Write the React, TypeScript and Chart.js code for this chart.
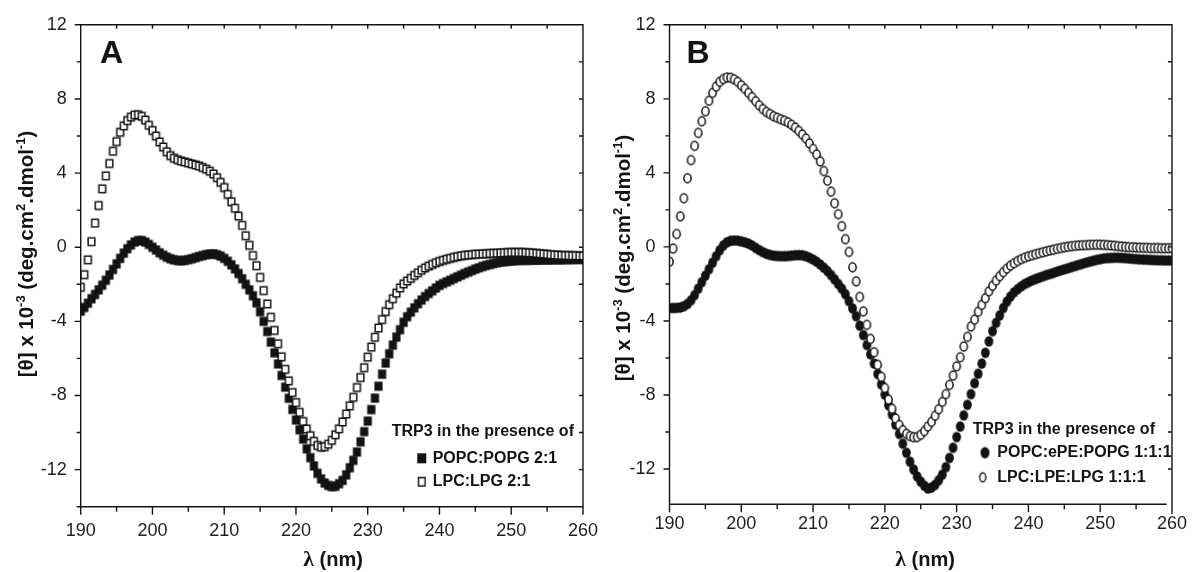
import React, { useEffect, useRef } from 'react';
import { Chart, registerables } from 'chart.js';

Chart.register(...registerables);

// ---------------- data ----------------
const wavelengthNm = [190,190.5,191,191.5,192,192.5,193,193.5,194,194.5,195,195.5,196,196.5,197,197.5,198,198.5,199,199.5,200,200.5,201,201.5,202,202.5,203,203.5,204,204.5,205,205.5,206,206.5,207,207.5,208,208.5,209,209.5,210,210.5,211,211.5,212,212.5,213,213.5,214,214.5,215,215.5,216,216.5,217,217.5,218,218.5,219,219.5,220,220.5,221,221.5,222,222.5,223,223.5,224,224.5,225,225.5,226,226.5,227,227.5,228,228.5,229,229.5,230,230.5,231,231.5,232,232.5,233,233.5,234,234.5,235,235.5,236,236.5,237,237.5,238,238.5,239,239.5,240,240.5,241,241.5,242,242.5,243,243.5,244,244.5,245,245.5,246,246.5,247,247.5,248,248.5,249,249.5,250,250.5,251,251.5,252,252.5,253,253.5,254,254.5,255,255.5,256,256.5,257,257.5,258,258.5,259,259.5,260];

const xTickLabels = [190, 200, 210, 220, 230, 240, 250, 260];
const xMinorTicks = [190, 195, 200, 205, 210, 215, 220, 225, 230, 235, 240, 245, 250, 255, 260];
const yTickLabels = [-12, -8, -4, 0, 4, 8, 12];
const yMinorTicks = [-14, -12, -10, -8, -6, -4, -2, 0, 2, 4, 6, 8, 10, 12];

// Panel A, filled squares
const popcPopgA = [-3.45,-3.25,-3.02,-2.78,-2.55,-2.3,-2.05,-1.78,-1.5,-1.2,-0.9,-0.6,-0.32,-0.08,0.12,0.28,0.36,0.36,0.28,0.15,0.0,-0.15,-0.3,-0.43,-0.54,-0.62,-0.68,-0.72,-0.73,-0.71,-0.67,-0.62,-0.56,-0.5,-0.45,-0.4,-0.37,-0.36,-0.4,-0.48,-0.6,-0.76,-0.95,-1.17,-1.42,-1.7,-2.0,-2.3,-2.62,-3.0,-3.48,-4.0,-4.55,-5.12,-5.7,-6.3,-6.92,-7.55,-8.15,-8.75,-9.32,-9.85,-10.35,-10.88,-11.35,-11.8,-12.2,-12.5,-12.72,-12.85,-12.92,-12.9,-12.76,-12.58,-12.28,-11.9,-11.5,-11.05,-10.5,-9.95,-9.38,-8.76,-8.14,-7.5,-6.85,-6.25,-5.75,-5.28,-4.85,-4.45,-4.05,-3.75,-3.5,-3.27,-3.05,-2.85,-2.66,-2.5,-2.35,-2.2,-2.06,-1.96,-1.87,-1.78,-1.69,-1.6,-1.51,-1.42,-1.34,-1.26,-1.18,-1.11,-1.04,-0.98,-0.93,-0.88,-0.84,-0.8,-0.78,-0.76,-0.74,-0.72,-0.71,-0.7,-0.7,-0.7,-0.69,-0.69,-0.69,-0.68,-0.68,-0.68,-0.67,-0.67,-0.67,-0.66,-0.66,-0.66,-0.65,-0.65,-0.65];

// Panel A, open squares
const lpcLpgA = [-2.16,-1.48,-0.68,0.3,1.3,2.25,3.15,3.85,4.52,5.18,5.7,6.2,6.55,6.83,7.02,7.13,7.15,7.06,6.86,6.58,6.3,6.0,5.68,5.41,5.15,4.94,4.8,4.72,4.65,4.6,4.55,4.49,4.44,4.38,4.3,4.21,4.1,3.95,3.75,3.5,3.22,2.85,2.45,2.1,1.68,1.18,0.62,0.1,-0.45,-1.0,-1.63,-2.34,-3.06,-3.78,-4.49,-5.21,-5.91,-6.59,-7.21,-7.84,-8.38,-8.91,-9.4,-9.81,-10.17,-10.47,-10.7,-10.79,-10.76,-10.63,-10.42,-10.12,-9.8,-9.43,-9.0,-8.56,-8.1,-7.57,-7.03,-6.5,-5.93,-5.39,-4.86,-4.36,-3.9,-3.47,-3.1,-2.78,-2.48,-2.2,-1.98,-1.82,-1.68,-1.52,-1.38,-1.24,-1.12,-1.02,-0.93,-0.84,-0.77,-0.71,-0.65,-0.6,-0.55,-0.51,-0.47,-0.44,-0.42,-0.4,-0.38,-0.37,-0.36,-0.35,-0.34,-0.33,-0.32,-0.31,-0.3,-0.29,-0.28,-0.28,-0.28,-0.28,-0.29,-0.3,-0.31,-0.33,-0.35,-0.36,-0.38,-0.4,-0.42,-0.43,-0.44,-0.45,-0.45,-0.46,-0.46,-0.47,-0.47];

// Panel B, filled circles
const popcEpePopgB = [-3.3,-3.3,-3.29,-3.27,-3.2,-3.08,-2.88,-2.6,-2.25,-1.9,-1.55,-1.2,-0.85,-0.5,-0.18,0.08,0.25,0.33,0.35,0.34,0.3,0.25,0.18,0.08,-0.05,-0.17,-0.28,-0.37,-0.43,-0.47,-0.49,-0.5,-0.5,-0.49,-0.47,-0.45,-0.44,-0.45,-0.5,-0.58,-0.68,-0.8,-0.95,-1.12,-1.3,-1.52,-1.75,-2.0,-2.25,-2.55,-2.93,-3.32,-3.74,-4.25,-4.76,-5.3,-5.8,-6.3,-6.86,-7.42,-7.98,-8.55,-9.05,-9.6,-10.1,-10.63,-11.12,-11.6,-12.02,-12.4,-12.68,-12.9,-13.05,-13.0,-12.85,-12.6,-12.3,-11.9,-11.4,-10.85,-10.27,-9.7,-9.1,-8.53,-7.95,-7.36,-6.85,-6.3,-5.72,-5.1,-4.55,-4.1,-3.7,-3.3,-2.95,-2.68,-2.45,-2.28,-2.13,-2.0,-1.9,-1.81,-1.73,-1.66,-1.59,-1.52,-1.46,-1.4,-1.33,-1.27,-1.21,-1.15,-1.09,-1.03,-0.97,-0.91,-0.85,-0.8,-0.75,-0.7,-0.66,-0.62,-0.6,-0.59,-0.58,-0.58,-0.59,-0.6,-0.62,-0.64,-0.65,-0.67,-0.68,-0.69,-0.7,-0.71,-0.72,-0.72,-0.73,-0.73,-0.73];

// Panel B, open circles
const lpcLpeLpgB = [-0.8,-0.09,0.7,1.65,2.63,3.71,4.69,5.46,6.16,6.79,7.33,7.9,8.32,8.66,8.92,9.07,9.15,9.14,9.06,8.92,8.73,8.54,8.32,8.09,7.87,7.65,7.45,7.29,7.18,7.06,6.98,6.9,6.82,6.73,6.6,6.45,6.27,6.07,5.86,5.59,5.29,4.99,4.62,4.1,3.58,2.99,2.36,1.77,1.12,0.42,-0.27,-1.1,-1.86,-2.7,-3.48,-4.21,-4.97,-5.69,-6.37,-7.02,-7.62,-8.25,-8.74,-9.27,-9.62,-9.9,-10.1,-10.22,-10.28,-10.27,-10.15,-9.95,-9.7,-9.45,-9.12,-8.77,-8.37,-7.95,-7.45,-6.95,-6.45,-5.96,-5.38,-4.86,-4.3,-3.93,-3.5,-3.13,-2.77,-2.4,-2.1,-1.82,-1.58,-1.36,-1.17,-1.01,-0.88,-0.76,-0.66,-0.58,-0.51,-0.45,-0.39,-0.34,-0.29,-0.24,-0.19,-0.15,-0.1,-0.06,-0.02,0.01,0.04,0.06,0.08,0.09,0.1,0.11,0.12,0.12,0.12,0.11,0.1,0.08,0.06,0.04,0.02,0.0,-0.01,-0.02,-0.03,-0.04,-0.05,-0.05,-0.06,-0.06,-0.06,-0.07,-0.07,-0.07,-0.07];

const legendTitle = 'TRP3 in the presence of';
const namesA = ['POPC:POPG 2:1', 'LPC:LPG 2:1'];
const namesB = ['POPC:ePE:POPG 1:1:1', 'LPC:LPE:LPG 1:1:1'];

// ---------------- styling ----------------
const INK = '#131313';
const SANS = "'Liberation Sans', Arial, Helvetica, sans-serif";
const SERIF = "'Liberation Serif', 'Times New Roman', serif";

type Shape = 'rect' | 'ellipse';

type Panel = {
  letter: string;
  canvasLeft: number;
  canvasWidth: number;
  shape: Shape;
  filledValues: number[];
  openValues: number[];
  names: string[];
  yAxisWidth: number;
  xAxisHeight: number;
  padRight: number;
  padTop: number;
  yMin: number;
  xTickPad: number;
  bottomLineEnd: number | null;
  rightLineExtra: number;
  letterX: number;
  letterY: number;
  yTitleX: number;
  yTitleY: number;
  xTitleX: number;
  xTitleY: number;
  legendX: number;
  legendY: number;
  markerX: number[];
  textX: number;
  rowY: number[];
  markW: number;
  markH: number;
};

const panels: Panel[] = [
  {
    letter: 'A', canvasLeft: 0, canvasWidth: 612, shape: 'rect',
    filledValues: popcPopgA, openValues: lpcLpgA, names: namesA,
    yAxisWidth: 80.7, xAxisHeight: 572 - 506.7, padRight: 612 - 585, padTop: 21.7,
    yMin: -14, xTickPad: 14, bottomLineEnd: null, rightLineExtra: 0,
    letterX: 100, letterY: 63,
    yTitleX: 26, yTitleY: 254,
    xTitleX: 333, xTitleY: 566,
    legendX: 391.7, legendY: 431.7, markerX: [421.7, 421.7], textX: 432.7, rowY: [458.3, 481.7],
    markW: 8.2, markH: 9.2,
  },
  {
    letter: 'B', canvasLeft: 598, canvasWidth: 598, shape: 'ellipse',
    filledValues: popcEpePopgB, openValues: lpcLpeLpgB, names: namesB,
    yAxisWidth: 71.5, xAxisHeight: 572 - 504.2, padRight: 598 - 577, padTop: 21.7,
    yMin: -13.9, xTickPad: 9, bottomLineEnd: 1166.7 - 598, rightLineExtra: 10,
    letterX: 88.5, letterY: 63,
    yTitleX: 25, yTitleY: 258,
    xTitleX: 327, xTitleY: 566,
    legendX: 374.7, legendY: 429.3, markerX: [387, 384.7], textX: 399.3, rowY: [452.7, 477.3],
    markW: 8.8, markH: 10.4,
  },
];

function markerSprite(shape: Shape, w: number, h: number, filled: boolean, lw: number): HTMLCanvasElement {
  const c = document.createElement('canvas');
  const cw = Math.ceil(w) + 2;
  const ch = Math.ceil(h) + 2;
  c.width = cw;
  c.height = ch;
  const g = c.getContext('2d') as CanvasRenderingContext2D;
  const inset = filled ? 0 : lw / 2;
  const ew = w - 2 * inset;
  const eh = h - 2 * inset;
  g.beginPath();
  if (shape === 'rect') g.rect(cw / 2 - ew / 2, ch / 2 - eh / 2, ew, eh);
  else g.ellipse(cw / 2, ch / 2, ew / 2, eh / 2, 0, 0, Math.PI * 2);
  if (filled) {
    g.fillStyle = INK;
    g.fill();
  } else {
    g.fillStyle = '#ffffff';
    g.fill();
    g.strokeStyle = INK;
    g.lineWidth = lw;
    g.stroke();
  }
  return c;
}

type Part = { t: string; sup?: boolean };
const yTitleParts: Part[] = [
  { t: '[θ] x 10' }, { t: '-3', sup: true }, { t: ' (deg.cm' }, { t: '2', sup: true },
  { t: '.dmol' }, { t: '-1', sup: true }, { t: ')' },
];

function framePlugin(p: Panel, legendSprites: HTMLCanvasElement[]) {
  return {
    id: 'frame' + p.letter,
    afterDraw(chart: any) {
      const ctx: CanvasRenderingContext2D = chart.ctx;
      const { left, right, top, bottom } = chart.chartArea;
      const xs = chart.scales.x;
      const ys = chart.scales.y;
      ctx.save();
      ctx.strokeStyle = INK;
      ctx.lineWidth = 1.4;
      ctx.beginPath();
      ctx.moveTo(left - 0.7, top); ctx.lineTo(right + 0.7, top);
      ctx.moveTo(right, top); ctx.lineTo(right, bottom + p.rightLineExtra);
      ctx.moveTo(left, top); ctx.lineTo(left, bottom + 0.7);
      ctx.moveTo(left - 0.7, bottom); ctx.lineTo(p.bottomLineEnd !== null ? p.bottomLineEnd : right + 0.7, bottom);
      ctx.stroke();

      ctx.beginPath();
      for (const v of xMinorTicks) {
        const px = xs.getPixelForValue(v);
        const major = xTickLabels.includes(v);
        if (!(p.rightLineExtra > 0 && v === 260)) {
          ctx.moveTo(px, bottom); ctx.lineTo(px, bottom + (major ? 8 : 5));
        }
        if (v !== 190 && v !== 260) { ctx.moveTo(px, top); ctx.lineTo(px, top + 4); }
      }
      for (const v of yMinorTicks) {
        if (v < p.yMin) continue;
        const py = ys.getPixelForValue(v);
        const major = yTickLabels.includes(v);
        ctx.moveTo(left, py); ctx.lineTo(left - (major ? 6 : 4), py);
        if (v !== 12 && v !== -14) { ctx.moveTo(right, py); ctx.lineTo(right - 4, py); }
      }
      ctx.stroke();

      ctx.fillStyle = INK;
      // panel letter
      ctx.font = `bold 32px ${SANS}`;
      ctx.textAlign = 'left';
      ctx.textBaseline = 'alphabetic';
      ctx.fillText(p.letter, p.letterX, p.letterY);

      // legend
      ctx.font = `bold 16px ${SANS}`;
      ctx.textBaseline = 'middle';
      ctx.fillText(legendTitle, p.legendX, p.legendY);
      for (let i = 0; i < 2; i++) {
        const s = legendSprites[i];
        ctx.drawImage(s, p.markerX[i] - s.width / 2, p.rowY[i] - s.height / 2);
        ctx.fillText(p.names[i], p.textX, p.rowY[i]);
      }

      // y-axis title (rotated, with superscripts)
      const mainFont = `bold 20.5px ${SANS}`;
      const supFont = `bold 13px ${SANS}`;
      let total = 0;
      const widths: number[] = [];
      for (const part of yTitleParts) {
        ctx.font = part.sup ? supFont : mainFont;
        const w = ctx.measureText(part.t).width;
        widths.push(w);
        total += w;
      }
      ctx.save();
      ctx.translate(p.yTitleX, p.yTitleY);
      ctx.rotate(-Math.PI / 2);
      ctx.textBaseline = 'alphabetic';
      let x = -total / 2;
      yTitleParts.forEach((part, i) => {
        ctx.font = part.sup ? supFont : mainFont;
        ctx.fillText(part.t, x, part.sup ? -1.5 : 7.3);
        x += widths[i];
      });
      ctx.restore();

      // x-axis title
      const lamFont = `bold 22px ${SERIF}`;
      const nmFont = `bold 20px ${SANS}`;
      ctx.font = lamFont;
      const wl = ctx.measureText('λ').width;
      ctx.font = nmFont;
      const wn = ctx.measureText(' (nm)').width;
      const tx = p.xTitleX - (wl + wn) / 2;
      ctx.textBaseline = 'alphabetic';
      ctx.font = lamFont;
      ctx.fillText('λ', tx, p.xTitleY);
      ctx.font = nmFont;
      ctx.fillText(' (nm)', tx + wl, p.xTitleY);
      ctx.restore();
    },
  };
}

function buildConfig(p: Panel): any {
  const filledSprite = markerSprite(p.shape, p.markW, p.markH, true, 1.5);
  const openSprite = markerSprite(p.shape, p.markW, p.markH, false, 1.5);
  const legendSprites = p.shape === 'rect'
    ? [markerSprite('rect', 9, 10, true, 1.4), markerSprite('rect', 8, 10, false, 1.4)]
    : [markerSprite('ellipse', 9, 11.5, true, 1.4), markerSprite('ellipse', 7.5, 10.5, false, 1.4)];
  const toPoints = (vals: number[]) => wavelengthNm.map((x, k) => ({ x, y: vals[k] }));
  return {
    type: 'scatter',
    data: {
      datasets: [
        { label: p.names[0], data: toPoints(p.filledValues), pointStyle: filledSprite, pointRadius: 4.5, showLine: false, order: 1, clip: 0 },
        { label: p.names[1], data: toPoints(p.openValues), pointStyle: openSprite, pointRadius: 4.5, showLine: false, order: 0, clip: 0 },
      ],
    },
    options: {
      responsive: false,
      animation: false,
      devicePixelRatio: 1,
      events: [],
      layout: { padding: { left: 0, right: p.padRight, top: p.padTop, bottom: 0 } },
      plugins: { legend: { display: false }, tooltip: { enabled: false }, title: { display: false } },
      scales: {
        x: {
          type: 'linear', min: 190, max: 260,
          afterBuildTicks: (s: any) => { s.ticks = xTickLabels.map((v) => ({ value: v })); },
          afterFit: (s: any) => { s.height = p.xAxisHeight; },
          grid: { display: false, drawTicks: false },
          border: { display: false },
          ticks: { autoSkip: false, maxRotation: 0, padding: p.xTickPad, color: '#1e1e1e', font: { family: SANS, size: 18 } },
        },
        y: {
          type: 'linear', min: p.yMin, max: 12,
          afterBuildTicks: (s: any) => { s.ticks = yTickLabels.map((v) => ({ value: v })); },
          afterFit: (s: any) => { s.width = p.yAxisWidth; },
          grid: { display: false, drawTicks: false },
          border: { display: false },
          ticks: { autoSkip: false, padding: 14, color: '#1e1e1e', font: { family: SANS, size: 18 } },
        },
      },
    },
    plugins: [framePlugin(p, legendSprites)],
  };
}

function PanelChart({ panel }: { panel: Panel }) {
  const ref = useRef<HTMLCanvasElement>(null);
  useEffect(() => {
    const canvas = ref.current as HTMLCanvasElement;
    const chart = new Chart(canvas, buildConfig(panel));
    return () => chart.destroy();
  }, [panel]);
  return (
    <canvas
      ref={ref}
      width={panel.canvasWidth}
      height={572}
      style={{ position: 'absolute', left: panel.canvasLeft, top: 0, width: panel.canvasWidth, height: 572 }}
    />
  );
}

export default function App() {
  return (
    <div style={{ position: 'fixed', left: 0, top: 0, width: 1196, height: 572, background: '#ffffff', overflow: 'hidden' }}>
      {panels.map((p) => (
        <PanelChart key={p.letter} panel={p} />
      ))}
    </div>
  );
}
